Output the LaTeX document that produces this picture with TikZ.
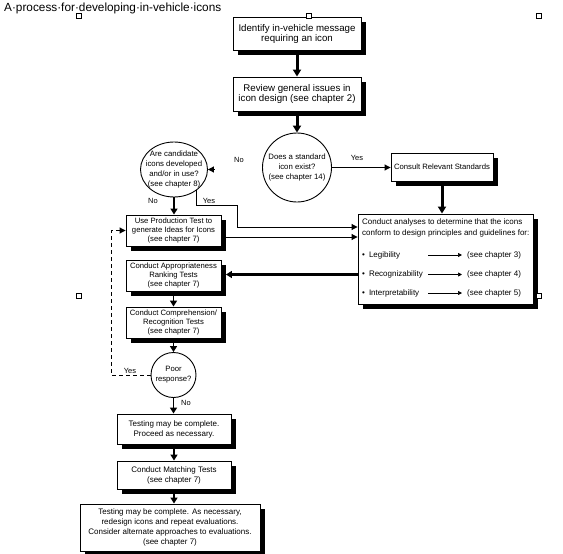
\documentclass[tikz,border=0pt]{standalone}
\usepackage{fontspec}
\setmainfont{Liberation Sans}
\usetikzlibrary{arrows.meta,shadows,shapes.geometric}

\begin{document}
\begin{tikzpicture}[x=1pt,y=-1pt,
        box/.style={draw,fill=white,line width=0.9pt,inner sep=0pt,align=center,
            drop shadow={shadow xshift=4.5pt,shadow yshift=-4.5pt,fill=black,opacity=1}},
        ring/.style={draw,fill=white,line width=0.9pt,inner sep=0pt},
        handle/.style={draw,fill=white,line width=0.6pt,minimum size=5pt,inner sep=0pt},
        txt/.style={inner sep=0pt,align=center,font=\fontsize{7.8}{10}\selectfont},
        lbl/.style={inner sep=0pt,font=\fontsize{7.5}{9}\selectfont},
        bigarrow/.style={line width=3pt,-{Triangle[length=7pt,width=8pt]}},
        midarrow/.style={line width=1.8pt,-{Triangle[length=6pt,width=7pt]}},
        leanarrow/.style={line width=1pt,-{Triangle[length=6pt,width=6pt]}},
        minorarrow/.style={line width=0.7pt,-{Triangle[length=4pt,width=4pt]}}]
        \useasboundingbox (0,0) rectangle (563,554);
        %% title
        \node[anchor=base west,inner sep=0pt,font=\fontsize{11.8}{13}\selectfont] (title) at (4,12) {A·process·for·developing·in-vehicle·icons};
        %% top of the process
        \node[box,minimum width=128pt,minimum height=33pt,font=\fontsize{9.7}{10}\selectfont] (identify) at (297,33.5) {Identify in-vehicle message\\requiring an icon};
        \node[box,minimum width=128pt,minimum height=34pt,font=\fontsize{9.7}{10}\selectfont] (review) at (297,94) {Review general issues in\\icon design (see chapter 2)};
        \node[ring,circle,minimum size=69pt] (standard) at (297,167.5) {};
        \node[txt] (stdtext) at (standard) {Does a standard\\icon exist?\\(see chapter 14)};
        \node[ring,ellipse,minimum width=67pt,minimum height=55pt] (candidate) at (174,169.5) {};
        \node[txt] (candtext) at (candidate) {Are candidate\\icons developed\\and/or in use?\\(see chapter 8)};
        \node[box,minimum width=102pt,minimum height=28pt,font=\fontsize{7.7}{9.2}\selectfont] (consult) at (442,167) {Consult Relevant Standards};
        %% analyses box
        \node[box,minimum width=175pt,minimum height=90pt] (analyses) at (445.5,259) {};
        \node[txt,anchor=north west,align=left,font=\fontsize{8}{10.5}\selectfont] (anhead) at (362,219) {Conduct analyses to determine that the icons\\conform to design principles and guidelines for:};
        \node[txt,anchor=west,font=\fontsize{8}{10}\selectfont] (leg) at (362,255) {•\hspace{4pt}Legibility};
        \node[txt,anchor=west,font=\fontsize{8}{10}\selectfont] (rec) at (362,274.5) {•\hspace{4pt}Recognizability};
        \node[txt,anchor=west,font=\fontsize{8}{10}\selectfont] (int) at (362,293) {•\hspace{4pt}Interpretability};
        \node[txt,anchor=west,font=\fontsize{8}{10}\selectfont] (legch) at (467,255) {(see chapter 3)};
        \node[txt,anchor=west,font=\fontsize{8}{10}\selectfont] (recch) at (467,274.5) {(see chapter 4)};
        \node[txt,anchor=west,font=\fontsize{8}{10}\selectfont] (intch) at (467,293) {(see chapter 5)};
        \coordinate (tail) at (428,0);
        %% testing column
        \node[box,minimum width=95pt,minimum height=31pt,font=\fontsize{7.7}{9.2}\selectfont] (production) at (173.5,230.5) {Use Production Test to\\generate Ideas for Icons\\(see chapter 7)};
        \node[box,minimum width=95pt,minimum height=31pt,font=\fontsize{7.7}{9.2}\selectfont] (ranking) at (173.5,275.5) {Conduct Appropriateness\\Ranking Tests\\(see chapter 7)};
        \node[box,minimum width=95pt,minimum height=31pt,font=\fontsize{7.7}{9.2}\selectfont] (comprehension) at (173.5,322.5) {Conduct Comprehension/\\Recognition Tests\\(see chapter 7)};
        \node[ring,circle,minimum size=45pt] (poor) at (173.5,375) {};
        \node[txt,font=\fontsize{7.7}{10}\selectfont] (poortext) at (poor) {Poor\\response?};
        \node[box,minimum width=114pt,minimum height=30pt,font=\fontsize{8}{10}\selectfont] (proceed) at (174,429) {Testing may be complete.\\Proceed as necessary.};
        \node[box,minimum width=114pt,minimum height=28pt,font=\fontsize{8}{10}\selectfont] (matching) at (174,475) {Conduct Matching Tests\\(see chapter 7)};
        \node[box,minimum width=180pt,minimum height=47pt,font=\fontsize{8}{10}\selectfont] (finish) at (170,527.5) {Testing may be complete. As necessary,\\redesign icons and repeat evaluations.\\Consider alternate approaches to evaluations.\\(see chapter 7)};
        %% labels
        \node[lbl] (nostd) at (239,160) {No};
        \node[lbl] (yesstd) at (357,158) {Yes};
        \node[lbl] (nocand) at (153,201) {No};
        \node[lbl] (yescand) at (209,201) {Yes};
        \node[lbl] (yespoor) at (130,371) {Yes};
        \node[lbl] (nopoor) at (186,403) {No};
        \coordinate (yesbend) at (237,205);
        \coordinate (yesin) at (0,227);
        \coordinate (prodout) at (0,237);
        \coordinate (loop) at (111,230.5);
        %% connectors
        \draw[bigarrow] (identify.south) -- (identify.south |- review.north);
        \draw[bigarrow] (review.south) -- (standard.north);
        \draw[leanarrow] (standard.east) -- (standard.east -| consult.west);
        \draw[leanarrow] ([xshift=6.5pt]candidate.east) -- (candidate.east);
        \draw[bigarrow] (consult.south) -- (consult.south |- analyses.north);
        \draw[midarrow] (candidate.south) -- (candidate.south |- production.north);
        \draw[leanarrow] (candidate.-42) |- (yesbend) |- (analyses.west |- yesin);
        \draw[leanarrow] (production.east |- prodout) -- (analyses.west |- prodout);
        \draw[line width=2.4pt,-{Triangle[length=6pt,width=7pt]}] (analyses.west |- rec) -- ([xshift=4.5pt]ranking.east |- rec);
        \draw[midarrow] (ranking.south) -- (comprehension.north);
        \draw[midarrow] (comprehension.south) -- (poor.north);
        \draw[leanarrow,dash pattern=on 4pt off 3pt] (poor.west) -| (loop) -- (production.west);
        \draw[midarrow] (poor.south) -- (poor.south |- proceed.north);
        \draw[midarrow] (proceed.south) -- (matching.north);
        \draw[midarrow] (matching.south) -- (matching.south |- finish.north);
        \draw[minorarrow] (leg -| tail) -- ([xshift=-5pt]legch.west);
        \draw[minorarrow] (rec -| tail) -- ([xshift=-5pt]recch.west);
        \draw[minorarrow] (int -| tail) -- ([xshift=-5pt]intch.west);
        %% selection handles
        \foreach \hx/\hy [count=\i] in {79/16,309/16,539/16,79/296,539/296}
            \node[handle] (h\i) at (\hx,\hy) {};
    \end{tikzpicture}
\end{document}
